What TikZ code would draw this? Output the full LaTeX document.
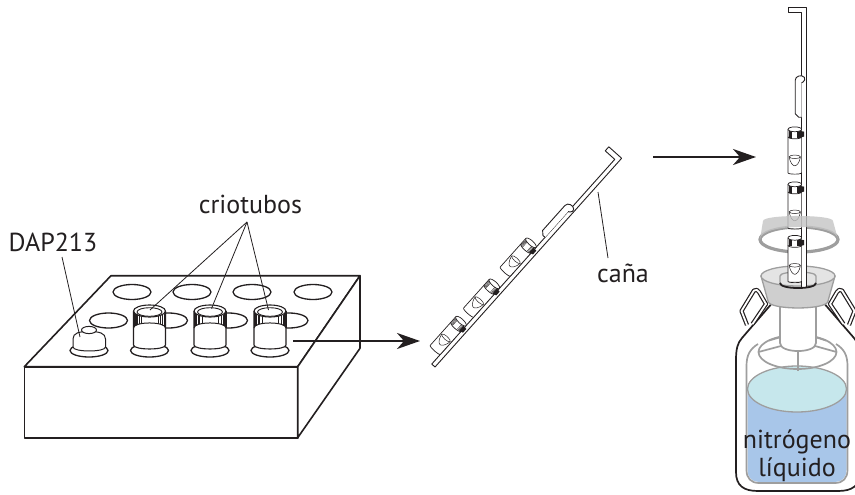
\documentclass[tikz,border=0pt]{standalone}
\usepackage{fontspec}
\setmainfont{PT Sans}
\usetikzlibrary{arrows.meta}
\definecolor{ink}{HTML}{231F20}
\definecolor{steel}{HTML}{9E9E9E}
\definecolor{collar}{HTML}{CFCFCF}
\definecolor{collartop}{HTML}{E4E4E4}
\definecolor{lidband}{HTML}{C4C4C4}
\definecolor{ln2}{HTML}{A8C6E9}
\definecolor{ln2top}{HTML}{C6E7EC}

% one cane (local frame: origin at the top of the strip, +y runs down the cane)
\newcommand{\canestrip}{%
  \draw[ink, line width=0.9pt, fill=white] (2.2,0) -- (2.2,280) -- (-2.2,280) -- (-2.2,5.4) -- (-15,5.4) -- (-15,0) -- cycle;
  \draw[ink, line width=0.9pt, fill=white] (-2.2,110) -- (-5,110) -- (-8.6,106.5) -- (-8.6,73)
     .. controls (-8.6,68.5) and (-2,67) .. (0.5,70) .. controls (1.5,71.5) and (1,73.5) .. (-0.5,74.5) -- (-2.2,75.5);
}
% a cryotube clipped to the cane: #1 offset along the cane, #2 length
\newcommand{\cryo}[2]{%
  \begin{scope}[shift={(-9,#1)}]
    \fill[white] (-6.8,2.5) -- (6.8,2.5) -- (6.8,#2) -- (-6.8,#2) -- cycle;
    \draw[ink, line width=0.7pt] (-6.8,2.5) -- (-6.8,#2) .. controls (-6.8,#2+1.8) and (6.8,#2+1.8) .. (6.8,#2) -- (6.8,2.5);
    \foreach \u in {-5.8,-5,-4.2,-3.4,2.6,3.6,4.6,5.6} \draw[ink, line width=0.35pt] (\u,4) -- (\u,11);
    \fill[ink] (5,4.2) -- (9.2,4.8) -- (9.2,9.8) -- (5,10.8) -- cycle;
    \draw[ink, line width=0.7pt] (-6.8,10) .. controls (-6.8,12.7) and (6.8,12.7) .. (6.8,10);
    \draw[ink, line width=0.7pt, fill=white] (0,2.5) ellipse (6.8 and 2.4);
    \draw[ink, line width=0.5pt] (0,#2-16) ellipse (5.6 and 1.8);
    \draw[ink, line width=0.5pt] (-5.6,#2-16) .. controls (-4.5,#2-9) and (-1.5,#2-7) .. (0,#2-7)
       .. controls (1.5,#2-7) and (4.5,#2-9) .. (5.6,#2-16);
  \end{scope}}
% a capped tube standing in the rack, centred on x = #1
\newcommand{\standtube}[1]{%
  \begin{scope}[shift={(#1,0)}]
    \fill[white] (-16,311) -- (-16,345) .. controls (-16,350.3) and (16,350.3) .. (16,345) -- (16,311) -- cycle;
    \foreach \t in {6,12,18,25,32,40,49,59,122,133,144,154,163,170,176}
      \draw[ink, line width=0.45pt] ({-16*cos(\t)},{311+6*sin(\t)}) -- ({-16*cos(\t)},{328-5*sin(\t)});
    \draw[ink, line width=1pt] (-16,328) .. controls (-16,321.3) and (16,321.3) .. (16,328);
    \draw[ink, line width=1.1pt] (-16,311) -- (-16,345) .. controls (-16,350.3) and (16,350.3) .. (16,345) -- (16,311);
    \draw[ink, line width=1.1pt, fill=white] (0,311) ellipse (16 and 6);
    \draw[ink, line width=0.9pt] (0,312) ellipse (12.5 and 4.3);
  \end{scope}}

\begin{document}
\begin{tikzpicture}[x=1pt, y=-1pt, line join=round,
  outline/.style={draw=ink, line width=1.6pt},
  hole/.style={draw=ink, line width=1.3pt},
  leader/.style={draw=ink, line width=0.8pt},
  flow/.style={draw=ink, line width=1.9pt, -{Stealth[length=23pt, width=16pt, inset=7pt]}},
  grey/.style={draw=steel, line width=1.7pt},
  label/.style={font=\fontsize{26}{30}\selectfont, text=ink, inner sep=0pt}]
\useasboundingbox (0,0) rectangle (855,495);
\clip (0,0) rectangle (855,495);

% ---------- rack ----------
\draw[outline, fill=white] (24.3,366.7) -- (111,275.7) -- (360,275.7) -- (297.7,366.7) -- cycle;
\draw[outline, fill=white] (24.3,366.7) -- (297.7,366.7) -- (297.7,437.7) -- (24.3,437.7) -- cycle;
\draw[outline, fill=white] (297.7,366.7) -- (360,275.7) -- (360,348.3) -- (297.7,437.7) -- cycle;
\foreach \x in {132,192,252,313} \draw[hole] (\x,292) ellipse (19 and 7.5);
\foreach \x in {108.5,168.5,228.5,289} \draw[hole] (\x,320.5) ellipse (19 and 7.5);
\foreach \x in {89,149.5,210,270} \draw[hole] (\x,350.5) ellipse (19 and 6.5);

% DAP213 vial
\draw[ink, line width=1pt, fill=white] (73,347) -- (73,339) .. controls (73,333) and (79,331.5) .. (89,331.5)
   .. controls (99,331.5) and (105.5,333) .. (105.5,339) -- (105.5,347) .. controls (105.5,352.3) and (73,352.3) .. (73,347);
\draw[ink, line width=1pt, fill=white] (89,330) ellipse (7.5 and 3.6);

\standtube{149.5}
\standtube{210}
\standtube{270}

% labels and leaders
\node[label, anchor=base] (dap) at (53,251.7) {DAP213};
\node[label, anchor=base] (crio) at (250.5,213.5) {criotubos};
\node[label, anchor=base] (cana) at (623,282) {caña};
\coordinate (dapfoot) at (62,257);
\coordinate (dapend) at (80,337);
\coordinate (criofoot) at (247,222);
\coordinate (tubeA) at (150,310);
\coordinate (tubeB) at (211.5,308.5);
\coordinate (tubeC) at (268.5,310);
\draw[leader] (dapfoot) -- (dapend);
\draw[leader] (criofoot) -- (tubeA);
\draw[leader] (criofoot) -- (tubeB);
\draw[leader] (criofoot) -- (tubeC);

% ---------- cane, tilted ----------
\begin{scope}[shift={(620,156.8)}, rotate=-41.8]
  \canestrip
  \cryo{121}{41}
  \cryo{176}{41}
  \cryo{226}{41}
\end{scope}
\coordinate (canafoot) at (608,258);
\coordinate (canaend) at (598,192);
\draw[leader] (canafoot) -- (canaend);

% ---------- transfer arrows ----------
\coordinate (a1s) at (293,341);
\coordinate (a1e) at (420,341);
\coordinate (a2s) at (653,157);
\coordinate (a2e) at (756,157);
\draw[flow] (a1s) -- (a1e);
\draw[flow] (a2s) -- (a2e);

% ---------- dewar ----------
\draw[ink, line width=1.7pt, fill=white] (780,294) -- (742,338) .. controls (737.5,343) and (736,349) .. (736,360)
   -- (736,472) .. controls (736,486) and (744,491) .. (758,491) -- (838,491) .. controls (852,491) and (860,486) .. (860,472)
   -- (860,360) .. controls (860,349) and (858.5,343) .. (854,338) -- (816,294);
% liquid nitrogen
\fill[ln2] (747.5,389) -- (747.5,470) .. controls (747.5,477) and (752,482) .. (759,482) -- (835,482)
   .. controls (842,482) and (846.5,477) .. (846.5,470) -- (846.5,389) -- cycle;
\draw[grey, line width=1.3pt, fill=ln2top] (797,389) ellipse (49.5 and 23);
% inner vessel
\draw[grey] (758,344) .. controls (750,349) and (746.5,355) .. (746.5,366) -- (746.5,470)
   .. controls (746.5,478) and (751,483) .. (759,483) -- (835,483) .. controls (843,483) and (847.5,478) .. (847.5,470)
   -- (847.5,366) .. controls (847.5,355) and (844,349) .. (836,344);
% basket
\draw[grey] (797.5,352) ellipse (39 and 17);
\draw[grey] (781,346) -- (758.5,352);
\draw[grey] (815,346) -- (836.5,352);
\draw[grey] (798,351) -- (798,371);
\draw[grey] (781,337) -- (769,340.5);
\draw[grey] (815,337) -- (826,340.5);
\draw[grey, fill=white] (780,300) -- (780,343) .. controls (780,353.7) and (816,353.7) .. (816,343) -- (816,300);
% neck stopper
\draw[steel, line width=1.3pt, fill=collar] (761,276) -- (768,301) .. controls (768,310.3) and (828,310.3) .. (828,301) -- (835,276) -- cycle;
\draw[steel, line width=1.3pt, fill=collartop] (798,276) ellipse (37 and 10);
\draw[steel, line width=1.3pt] (780,284) -- (780,276) .. controls (780,270.7) and (816,270.7) .. (816,276) -- (816,284);

\node[label, anchor=base] (nitro) at (797,448) {nitrógeno};
\node[label, anchor=base] (liqui) at (797,476.5) {líquido};

% handles
\draw[ink, line width=1.2pt, double=white, double distance=1.8pt, fill=white]
   (747,325) -- (741.5,311) -- (754,290.5) .. controls (756,289) and (758,290) .. (759,292) -- (766,304) -- (752.5,324);
\draw[ink, line width=1.2pt, double=white, double distance=1.8pt, fill=white]
   (849,325) -- (854.5,311) -- (842,290.5) .. controls (840,289) and (838,290) .. (837,292) -- (830,304) -- (843.5,324);

% lid ring, rim
\draw[steel, line width=3.2pt] (799,239.5) ellipse (39 and 12.5);

% ---------- cane in the dewar ----------
\begin{scope}[shift={(803.8,7.3)}]
  \canestrip
  \cryo{119.5}{46}
  \cryo{174.5}{46}
  \cryo{228}{46}
\end{scope}
\draw[ink, line width=1.8pt] (780,283) .. controls (780,289.7) and (816,289.7) .. (816,283);

% lid ring, collar
\fill[lidband, opacity=0.8] (763,221) .. controls (763,214.3) and (833,214.3) .. (833,221) -- (838,239.5)
   .. controls (838,222.8) and (760,222.8) .. (760,239.5) -- cycle;
\end{tikzpicture}
\end{document}
